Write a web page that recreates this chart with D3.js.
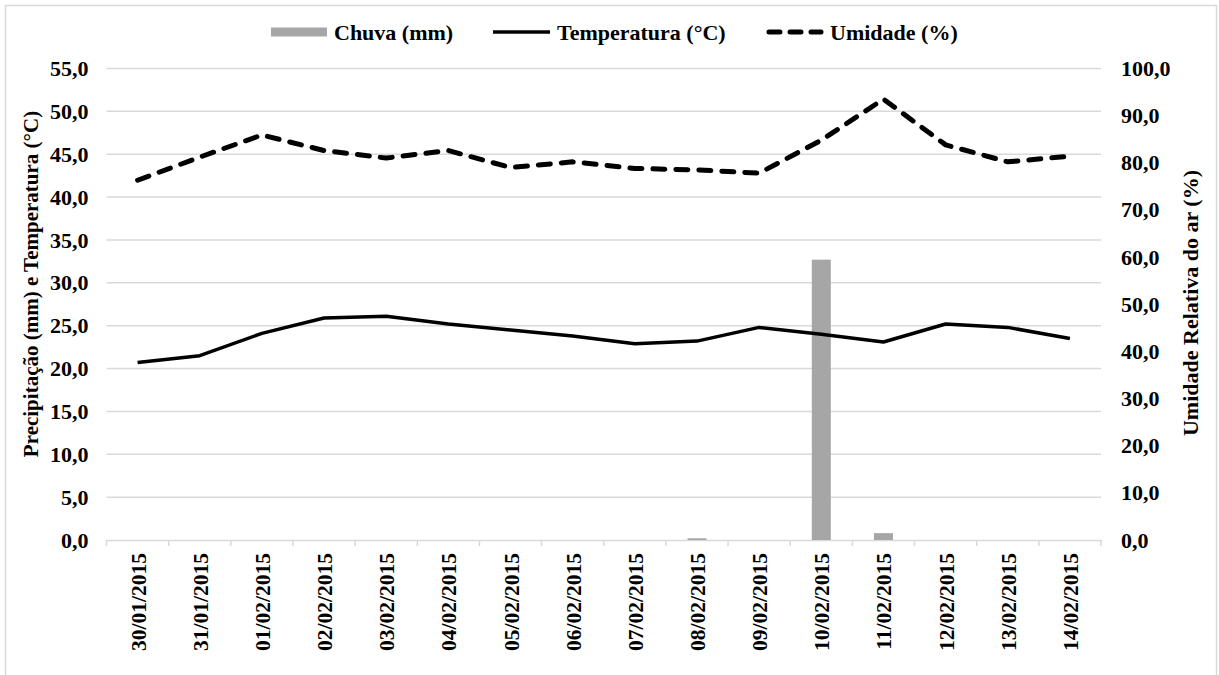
<!DOCTYPE html>
<html><head><meta charset="utf-8">
<script src="https://cdn.jsdelivr.net/npm/d3@7"></script>
<style>
html,body{margin:0;padding:0;background:#fff;}
text{font-family:"Liberation Serif","Times New Roman",serif;font-weight:bold;fill:#000;}
</style></head>
<body>
<svg id="chart" width="1219" height="675"></svg>
<script>
const dates = ["30/01/2015","31/01/2015","01/02/2015","02/02/2015","03/02/2015","04/02/2015","05/02/2015","06/02/2015","07/02/2015","08/02/2015","09/02/2015","10/02/2015","11/02/2015","12/02/2015","13/02/2015","14/02/2015"];
const chuva = [0,0,0,0,0,0,0,0,0,0.2,0,32.7,0.8,0,0,0];
const temperatura = [20.7,21.5,24.1,25.9,26.1,25.2,24.5,23.8,22.9,23.2,24.8,24.0,23.1,25.2,24.8,23.5];
const umidade = [76.3,81.2,85.9,82.6,81.0,82.6,79.0,80.2,78.8,78.5,77.8,84.8,93.5,83.8,80.2,81.4];
const leftTicks = [0,5,10,15,20,25,30,35,40,45,50,55];
const rightTicks = [0,10,20,30,40,50,60,70,80,90,100];
const legendLabels = ["Chuva (mm)","Temperatura (°C)","Umidade (%)"];
const leftTitle = "Precipitação (mm) e Temperatura  (°C)";
const rightTitle = "Umidade Relativa do ar (%)";

const svg = d3.select("#chart");
const fmt = v => v.toFixed(1).replace(".", ",");
const X0 = 106.5, X1 = 1101, Y0 = 540, YT = 68.5;

// frame
svg.append("rect").attr("x",5.5).attr("y",5.5).attr("width",1211).attr("height",690)
  .attr("fill","none").attr("stroke","#d9d9d9").attr("stroke-width",1.5);

const x = d3.scaleBand().domain(dates).range([X0, X1]).padding(0);
const yL = d3.scaleLinear().domain([0,55]).range([Y0, YT]);
const yR = d3.scaleLinear().domain([0,100]).range([Y0, YT]);
const cx = d => x(d) + x.bandwidth()/2;

// gridlines
svg.append("g").selectAll("line").data(leftTicks.filter(t=>t>0)).join("line")
  .attr("x1",X0).attr("x2",X1).attr("y1",d=>yL(d)).attr("y2",d=>yL(d))
  .attr("stroke","#d9d9d9").attr("stroke-width",1.5);

// x axis
const xAxis = svg.append("g").attr("transform",`translate(0,${Y0})`)
  .call(d3.axisBottom(x).tickSize(0).tickFormat(""));
xAxis.select(".domain").attr("stroke","#d9d9d9").attr("stroke-width",1.5);
svg.append("g").selectAll("line").data(d3.range(dates.length+1)).join("line")
  .attr("x1",i=>X0+i*x.bandwidth()).attr("x2",i=>X0+i*x.bandwidth())
  .attr("y1",Y0).attr("y2",Y0+6).attr("stroke","#d9d9d9").attr("stroke-width",1.5);
svg.append("g").selectAll("text").data(dates).join("text")
  .attr("transform",d=>`translate(${cx(d)+1},553) rotate(-90)`)
  .attr("text-anchor","end").attr("dominant-baseline","central")
  .style("font-size","21.5px").text(d=>d);

// left axis labels
const gl = svg.append("g").attr("transform",`translate(${X0},0)`)
  .call(d3.axisLeft(yL).tickValues(leftTicks).tickFormat(fmt).tickSize(0).tickPadding(18));
gl.select(".domain").remove();
gl.selectAll("text").style("font-size","22px").style("font-family","Liberation Serif").attr("font-weight","bold");

const gr = svg.append("g").attr("transform",`translate(${X1},0)`)
  .call(d3.axisRight(yR).tickValues(rightTicks).tickFormat(fmt).tickSize(0).tickPadding(20));
gr.select(".domain").remove();
gr.selectAll("text").style("font-size","22px").style("font-family","Liberation Serif").attr("font-weight","bold");

// bars
svg.append("g").selectAll("rect").data(dates).join("rect")
  .attr("x",d=>cx(d)-9.5).attr("width",19)
  .attr("y",(d,i)=>yL(chuva[i])).attr("height",(d,i)=>Y0-yL(chuva[i]))
  .attr("fill","#a6a6a6");

// lines
const lineT = d3.line().x((d,i)=>cx(dates[i])).y(d=>yL(d));
svg.append("path").datum(temperatura).attr("d",lineT)
  .attr("fill","none").attr("stroke","#000").attr("stroke-width",3.5).attr("stroke-linejoin","round");
const lineU = d3.line().x((d,i)=>cx(dates[i])).y(d=>yR(d));
svg.append("path").datum(umidade).attr("d",lineU)
  .attr("fill","none").attr("stroke","#000").attr("stroke-width",5)
  .attr("stroke-dasharray","12,11").attr("stroke-linecap","round").attr("stroke-linejoin","round");

// axis titles
svg.append("text").attr("transform","translate(31,284) rotate(-90)")
  .attr("text-anchor","middle").attr("dominant-baseline","central")
  .style("font-size","21px").text(leftTitle);
svg.append("text").attr("transform","translate(1190,303) rotate(-90)")
  .attr("text-anchor","middle").attr("dominant-baseline","central")
  .style("font-size","22px").text(rightTitle);

// legend
const lg = svg.append("g");
lg.append("rect").attr("x",271).attr("y",27.5).attr("width",56).attr("height",9).attr("fill","#a6a6a6");
lg.append("text").attr("x",334).attr("y",40).style("font-size","22px").text(legendLabels[0]);
lg.append("line").attr("x1",493).attr("x2",550).attr("y1",32).attr("y2",32).attr("stroke","#000").attr("stroke-width",3.5);
lg.append("text").attr("x",557).attr("y",40).style("font-size","22px").text(legendLabels[1]);
lg.append("line").attr("x1",769).attr("x2",821).attr("y1",32).attr("y2",32).attr("stroke","#000").attr("stroke-width",5)
  .attr("stroke-dasharray","11,10").attr("stroke-linecap","round");
lg.append("text").attr("x",830).attr("y",40).style("font-size","22px").text(legendLabels[2]);
</script>
</body></html>
